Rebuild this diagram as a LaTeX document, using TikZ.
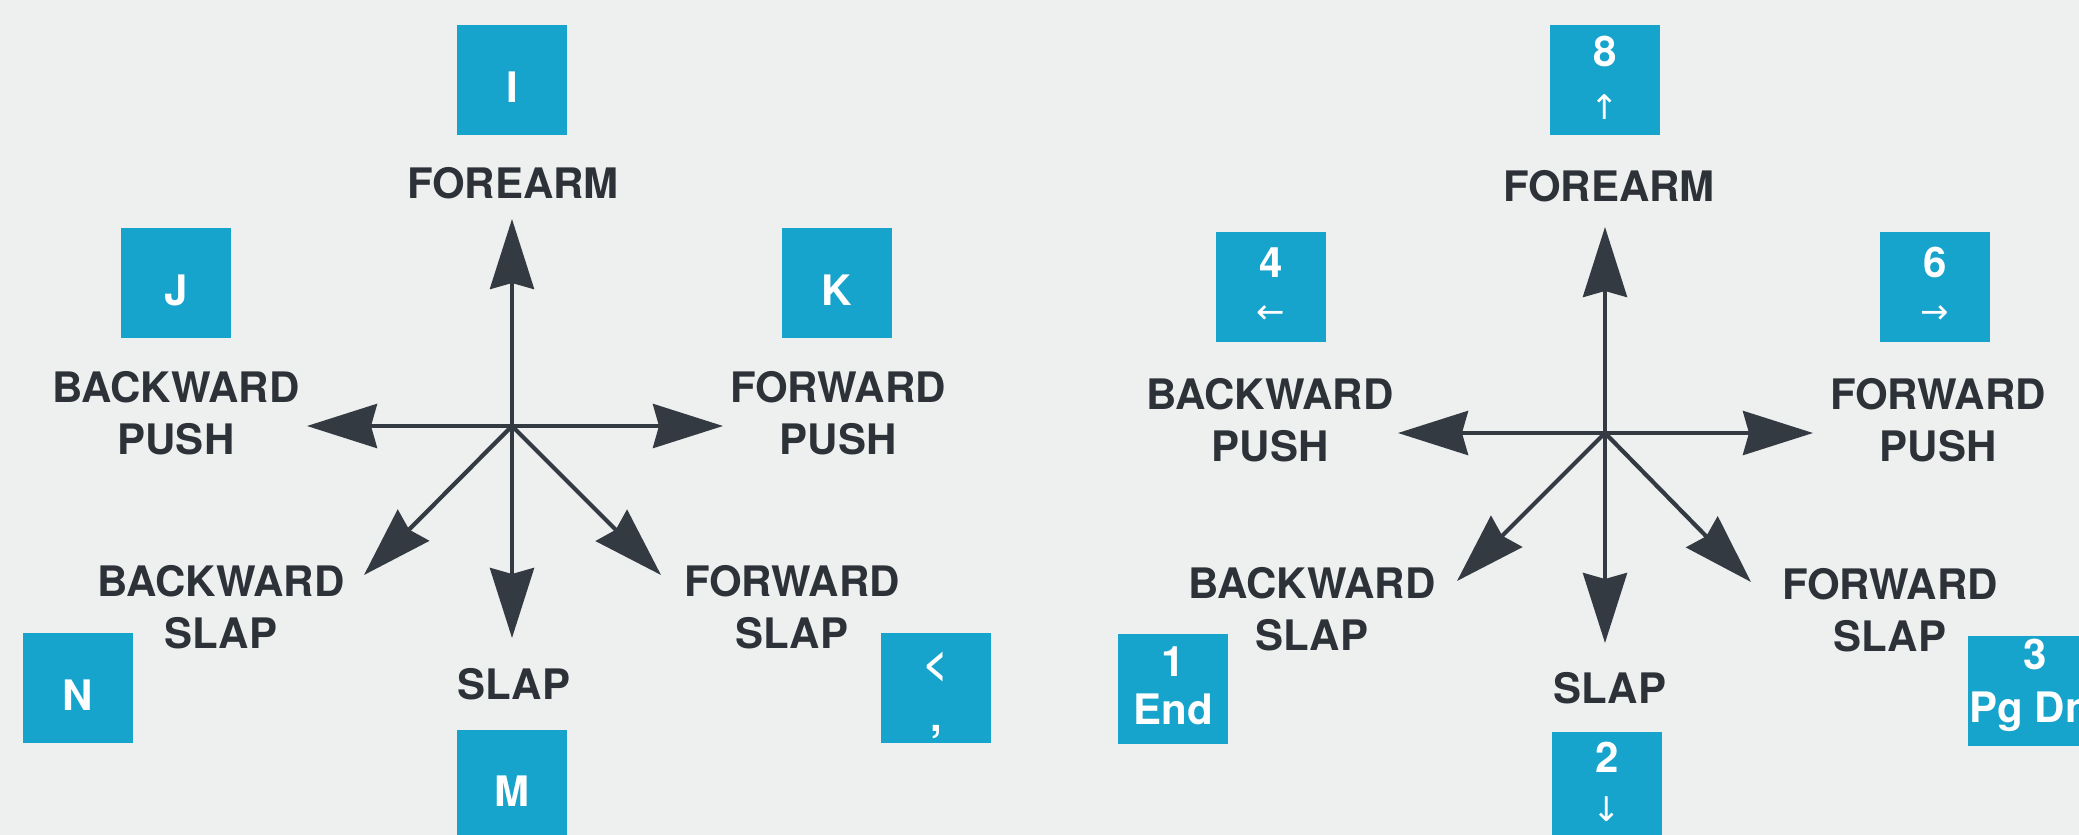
\documentclass[tikz,border=0pt]{standalone}
\usepackage{fontspec}
\setmainfont{TeX Gyre Heros}
\newfontfamily\arrowfont{DejaVu Sans}
\usetikzlibrary{arrows.meta,calc}
\definecolor{bg}{RGB}{238,240,240}
\definecolor{keyblue}{RGB}{22,163,204}
\definecolor{ink}{RGB}{45,50,56}
\definecolor{arrowink}{RGB}{52,58,66}
\begin{document}
\begin{tikzpicture}[x=0.5pt,y=-0.5pt,
  keybox/.style={fill=keyblue, draw=none, minimum width=55pt, minimum height=55pt, inner sep=0pt},
  keytxt/.style={text=white, font=\fontsize{21}{24}\selectfont\bfseries, inner sep=0pt, anchor=base},
  keyarr/.style={text=white, font=\fontsize{17}{18}\selectfont\arrowfont, inner sep=0pt, anchor=center},
  lbl/.style={text=ink, font=\fontsize{21}{26}\selectfont\bfseries, align=center, inner sep=0pt},
  mv/.style={draw=arrowink, line width=2.1pt, -{Stealth[length=35pt,width=22pt,inset=3pt]}},
]
\useasboundingbox (0,0) rectangle (2079,835);
\clip (0,0) rectangle (2079,835);
\fill[bg] (0,0) rectangle (2079,835);

% ---------------- left diagram ----------------
\node[keybox] (kI) at (512,80) {};
\node[keytxt] (tI) at (512,102) {I};
\node[keybox] (kJ) at (176,283) {};
\node[keytxt] (tJ) at (176,305) {J};
\node[keybox] (kK) at (837,283) {};
\node[keytxt] (tK) at (837,305) {K};
\node[keybox] (kN) at (78,688) {};
\node[keytxt] (tN) at (78,710) {N};
\node[keybox] (kLt) at (936,688) {};
\node[keytxt, anchor=center] (tLt) at (936,667) {<};
\node[keytxt] (tCm) at (936,731) {,};
\node[keybox] (kM) at (512,785) {};
\node[keytxt] (tM) at (512,806) {M};

\node[lbl] (lFore) at (513,183) {FOREARM};
\node[lbl] (lBP) at (176,413) {BACKWARD\\PUSH};
\node[lbl] (lFP) at (838,413) {FORWARD\\PUSH};
\node[lbl] (lBS) at (221,607) {BACKWARD\\SLAP};
\node[lbl] (lFS) at (792,607) {FORWARD\\SLAP};
\node[lbl] (lSlap) at (514,684) {SLAP};

\coordinate (cL) at (512,426);
\coordinate (uL) at (512,219);
\coordinate (wL) at (307,426);
\coordinate (eL) at (723,426);
\coordinate (sL) at (512,638);
\coordinate (swL) at (364,575);
\coordinate (seL) at (661,575);
\draw[mv] (cL) -- (uL);
\draw[mv] (cL) -- (wL);
\draw[mv] (cL) -- (eL);
\draw[mv] (cL) -- (sL);
\draw[mv] (cL) -- (swL);
\draw[mv] (cL) -- (seL);

% ---------------- right diagram ----------------
\node[keybox] (k8) at (1605,80) {};
\node[keytxt] (t8) at (1605,66) {8};
\node[keyarr] (a8) at (1605,107) {↑};
\node[keybox] (k4) at (1271,287) {};
\node[keytxt] (t4) at (1271,277) {4};
\node[keyarr] (a4) at (1271,315) {←};
\node[keybox] (k6) at (1935,287) {};
\node[keytxt] (t6) at (1935,277) {6};
\node[keyarr] (a6) at (1935,315) {→};
\node[keybox] (k1) at (1173,689) {};
\node[keytxt] (t1) at (1173,676) {1};
\node[keytxt] (tEnd) at (1173,724) {End};
\node[keybox] (k2) at (1607,787) {};
\node[keytxt] (t2) at (1607,772) {2};
\node[keyarr] (a2) at (1607,809) {↓};
\node[keybox, minimum width=67pt] (k3) at (2035,691) {};
\node[keytxt] (t3) at (2035,669) {3};
\node[keytxt] (tPg) at (2030,722) {Pg Dn};

\node[lbl] (rFore) at (1609,186) {FOREARM};
\node[lbl] (rBP) at (1270,420) {BACKWARD\\PUSH};
\node[lbl] (rFP) at (1938,420) {FORWARD\\PUSH};
\node[lbl] (rBS) at (1312,609) {BACKWARD\\SLAP};
\node[lbl] (rFS) at (1890,610) {FORWARD\\SLAP};
\node[lbl] (rSlap) at (1610,688) {SLAP};

\coordinate (cR) at (1605,433);
\coordinate (uR) at (1605,227);
\coordinate (wR) at (1398,433);
\coordinate (eR) at (1813,433);
\coordinate (sR) at (1605,643);
\coordinate (swR) at (1457,581);
\coordinate (seR) at (1751,582);
\draw[mv] (cR) -- (uR);
\draw[mv] (cR) -- (wR);
\draw[mv] (cR) -- (eR);
\draw[mv] (cR) -- (sR);
\draw[mv] (cR) -- (swR);
\draw[mv] (cR) -- (seR);
\end{tikzpicture}
\end{document}
